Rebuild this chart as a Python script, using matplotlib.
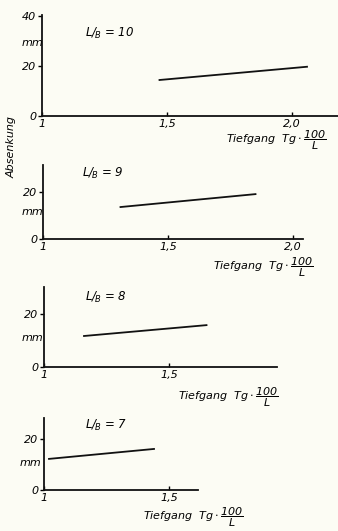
import matplotlib
matplotlib.use("Agg")
import matplotlib.pyplot as plt

# Absenkung (mm) over Tiefgang Tg*100/L, one panel per L/B ratio
ratios = [10, 9, 8, 7]
x_lines = [[1.47, 2.06], [1.31, 1.85], [1.16, 1.65], [1.02, 1.44]]
y_lines = [[14.4, 19.7], [13.6, 19.1], [11.7, 15.8], [12.2, 16.1]]
x_ticks = [[1, 1.5, 2.0], [1, 1.5, 2.0], [1, 1.5], [1, 1.5]]
x_ticklabels = [["1", "1,5", "2,0"], ["1", "1,5", "2,0"], ["1", "1,5"], ["1", "1,5"]]
y_ticks = [[0, 20, 40], [0, 20], [0, 20], [0, 20]]

W, H = 338, 531
plt.rcParams['font.family'] = ['DejaVu Sans']
plt.rcParams['font.style'] = 'italic'
plt.rcParams['mathtext.fontset'] = 'dejavusans'
plt.rcParams['mathtext.default'] = 'it'

fig = plt.figure(figsize=(W / 100, H / 100), dpi=100)
fig.patch.set_facecolor('#fcfcf4')

# pixel layout of each panel: left, zero line, top, right
boxes = [(42, 116, 15, 338), (43, 239, 165, 303), (44, 367, 287, 277), (44, 490, 418, 198)]
yscale = [50, 47, 53, 51]   # px per 20 mm
xscale = 250                # px per unit Tg*100/L
lb_pos = [(85, 33), (82, 173), (85, 297), (85, 425)]
mm_pos = [(22, 43), (22, 212), (22, 338), (20, 463)]
lab_pos = [(226, 140), (213, 267), (178, 397), (143, 517)]

for i in range(4):
    left, y0, top, right = boxes[i]
    ax = fig.add_axes([left / W, 1 - y0 / H, (right - left) / W, (y0 - top) / H])
    ax.set_facecolor('none')
    ax.plot(x_lines[i], y_lines[i], color='#111111', lw=1.3)
    ax.set_xlim(1, 1 + (right - left) / xscale)
    ax.set_ylim(0, (y0 - top) / yscale[i] * 20)
    for s in ['top', 'right']:
        ax.spines[s].set_visible(False)
    for s in ['left', 'bottom']:
        ax.spines[s].set_linewidth(1.3)
        ax.spines[s].set_color('#111111')
    ax.set_xticks(x_ticks[i])
    ax.set_xticklabels(x_ticklabels[i])
    ax.set_yticks(y_ticks[i])
    ax.tick_params(axis='y', length=3, width=1, direction='out', pad=1, labelsize=8)
    ax.tick_params(axis='x', length=3, width=1, direction='in', pad=2, labelsize=8)

    fig.text(lb_pos[i][0] / W, 1 - lb_pos[i][1] / H,
             r"$L/_{\!B}$ = %d" % ratios[i], fontsize=8.5, va='center')
    fig.text(mm_pos[i][0] / W, 1 - mm_pos[i][1] / H, "mm", fontsize=8, va='center')
    fig.text(lab_pos[i][0] / W, 1 - lab_pos[i][1] / H,
             r"Tiefgang  $Tg\cdot\dfrac{100}{L}$", fontsize=8, va='center')

fig.text(12 / W, 1 - 147 / H, "Absenkung", rotation=90, fontsize=8,
         va='center', ha='center')

fig.savefig("out.png", dpi=100, facecolor=fig.get_facecolor())
